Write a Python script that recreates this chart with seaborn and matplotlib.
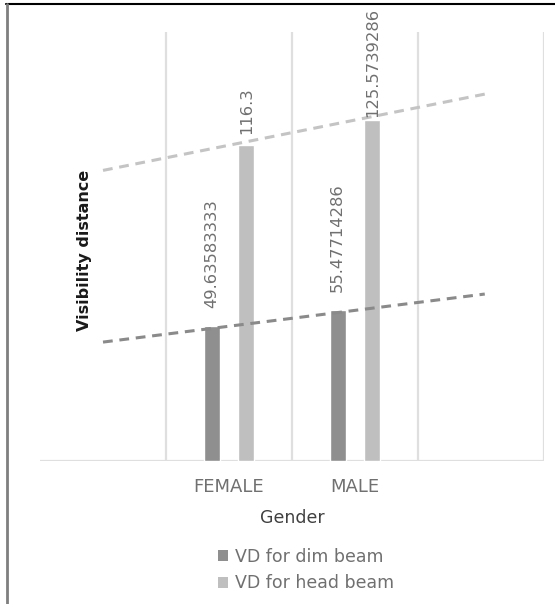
import numpy as np
import pandas as pd
import matplotlib
matplotlib.use("Agg")
import matplotlib.pyplot as plt
from matplotlib.lines import Line2D
from matplotlib.patches import Patch
import seaborn as sns

# Data
genders = ["FEMALE", "MALE"]
series = ["VD for dim beam", "VD for head beam"]
dim_beam = [49.63583333, 55.47714286]
head_beam = [116.3, 125.5739286]
dim_labels = ["49.63583333", "55.47714286"]
head_labels = ["116.3", "125.5739286"]

df = pd.DataFrame({
    "Gender": genders * 2,
    "Series": [series[0]] * 2 + [series[1]] * 2,
    "Value": dim_beam + head_beam,
})

sns.set_theme(style="white")
plt.rcParams["font.family"] = ["DejaVu Sans"]

W, H = 555, 604
fig = plt.figure(figsize=(W / 100, H / 100), dpi=100)
fig.patch.set_facecolor("white")

ax = fig.add_axes([40 / W, 1 - 461 / H, 504 / W, 429 / H])
ax.set_facecolor("white")

colors = {series[0]: "#8f8f8f", series[1]: "#bfbfbf"}

# category gridlines between groups
for xv in [-0.5, 0.5, 1.5, 2.5]:
    ax.axvline(xv, color="#dfdfdf", lw=1.6, zorder=0)
ax.axhline(0, color="#dfdfdf", lw=1.6, zorder=0)

sns.barplot(data=df, x="Gender", y="Value", hue="Series", order=genders,
            hue_order=series, palette=colors, width=0.55, gap=0.54,
            saturation=1, ax=ax, legend=False, zorder=2)

ax.set_xlim(-1.5, 2.5)
ax.set_ylim(0, 158)

# linear trendlines, extended one period back and forward
xs = np.arange(len(genders))
xt = np.array([-1.0, 2.03])
for vals, col in [(dim_beam, "#8a8a8a"), (head_beam, "#c4c4c4")]:
    k, b = np.polyfit(xs, vals, 1)
    ax.plot(xt, k * xt + b, ls=(0, (3.2, 2.2)), lw=2.2, color=col, zorder=3)

# value labels
dim_rgb = matplotlib.colors.to_rgb(colors[series[0]])
dim_bars = sorted([p for p in ax.patches if p.get_height() > 0 and
                   np.allclose(p.get_facecolor()[:3], dim_rgb, atol=0.02)],
                  key=lambda p: p.get_x())
head_bars = sorted([p for p in ax.patches if p.get_height() > 0 and p not in dim_bars],
                   key=lambda p: p.get_x())
pads = {series[0]: [13, 13], series[1]: [8, 2]}
for blist, labs, key in [(dim_bars, dim_labels, series[0]), (head_bars, head_labels, series[1])]:
    for i, (p, lab) in enumerate(zip(blist, labs)):
        ax.annotate(lab, (p.get_x() + p.get_width() / 2, p.get_height()),
                    xytext=(0, pads[key][i]), textcoords="offset points",
                    rotation=90, ha="center", va="bottom", fontsize=11.8,
                    color="#707070", zorder=4)

for s in ax.spines.values():
    s.set_visible(False)
ax.set_yticks([])
ax.set_xticks(xs)
ax.set_xticklabels(genders, fontsize=13, color="#707070")
ax.tick_params(axis="x", length=0, pad=12)

ax.set_xlabel("Gender", fontsize=12.5, color="#404040")
ax.xaxis.set_label_coords(0.5, -57 / 429)
ax.xaxis.label.set_va("center")

ax.set_ylabel("Visibility distance", fontsize=11.5, fontweight="bold", color="#1a1a1a")
ax.yaxis.set_label_coords(45 / 504, 0.49)
ax.yaxis.label.set_va("center")

handles = [Patch(facecolor=colors[s], edgecolor="none") for s in series]
leg = fig.legend(handles, series, loc="upper center",
                 bbox_to_anchor=(306 / W, 1 - 539 / H), frameon=False,
                 fontsize=12.5, handlelength=0.6, handleheight=0.6,
                 handletextpad=0.4, labelspacing=0.5, borderpad=0)
for t in leg.get_texts():
    t.set_color("#707070")

# outer frame lines
fig.add_artist(Line2D([6 / W, 1], [1 - 4 / H, 1 - 4 / H], color="black", lw=1.5,
                      transform=fig.transFigure))
fig.add_artist(Line2D([6.5 / W, 6.5 / W], [0, 1 - 4 / H], color="#7f7f7f", lw=2,
                      transform=fig.transFigure))

fig.savefig("out.png", dpi=100, facecolor="white")
